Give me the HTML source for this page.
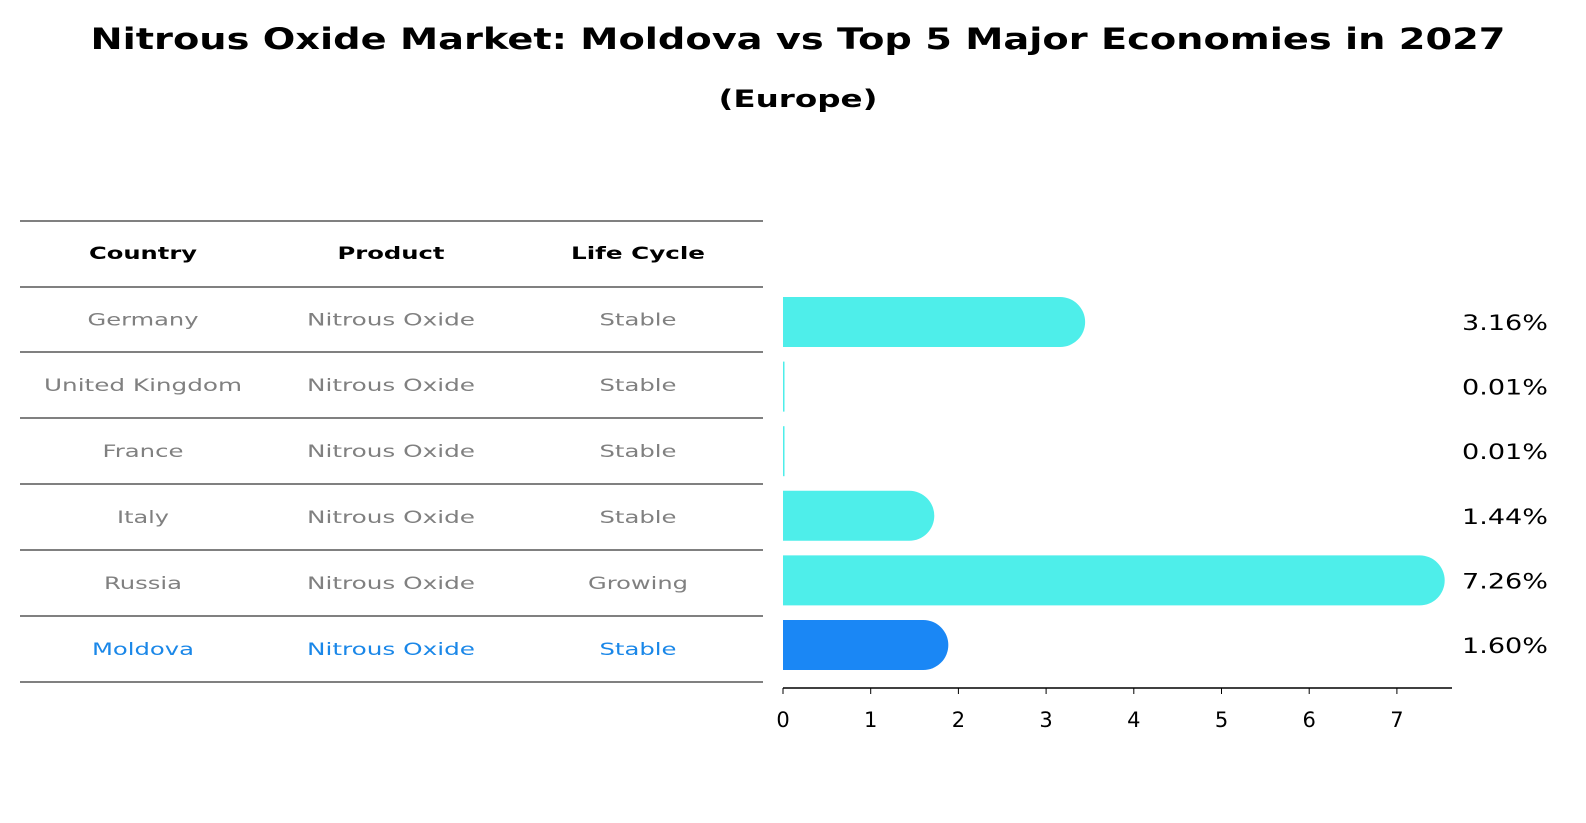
<!DOCTYPE html>
<html><head><meta charset="utf-8"><style>
html,body{margin:0;padding:0;background:#fff;width:1586px;height:823px;overflow:hidden}
svg{display:block}
svg text{font-family:"DejaVu Sans","Liberation Sans",sans-serif}
</style></head><body>
<svg width="1586" height="823" viewBox="0 0 1586 823">
<text x="798" y="49" text-anchor="middle" font-size="29" font-weight="bold" textLength="1415" lengthAdjust="spacingAndGlyphs">Nitrous Oxide Market: Moldova vs Top 5 Major Economies in 2027</text>
<text x="798" y="107" text-anchor="middle" font-size="24" font-weight="bold" textLength="159" lengthAdjust="spacingAndGlyphs">(Europe)</text>
<g id="table"></g>
<g id="bars"></g>
</svg>
<script>
const countries=["Germany","United Kingdom","France","Italy","Russia","Moldova"];
const products=["Nitrous Oxide","Nitrous Oxide","Nitrous Oxide","Nitrous Oxide","Nitrous Oxide","Nitrous Oxide"];
const lifeCycles=["Stable","Stable","Stable","Stable","Growing","Stable"];
const shares=[3.16,0.01,0.01,1.44,7.26,1.60];
const ticks=[0,1,2,3,4,5,6,7];
const NS="http://www.w3.org/2000/svg";
const widths={"Germany":111,"United Kingdom":198,"France":81,"Italy":52,"Russia":78,"Moldova":102,"Nitrous Oxide":168,"Stable":77,"Growing":100,"Country":108,"Product":107,"Life Cycle":134};
function mk(t,a,p){const e=document.createElementNS(NS,t);for(const k in a)e.setAttribute(k,a[k]);p.appendChild(e);return e;}
function fit(t,w){t.setAttribute('textLength',w);t.setAttribute('lengthAdjust','spacingAndGlyphs');}
const tbl=document.getElementById('table'),bars=document.getElementById('bars');
const lineYs=[221,287,352,418,484,550,616,682];
lineYs.forEach(y=>{const l=mk('line',{x1:20,x2:763,y1:y,y2:y,stroke:'#000','stroke-width':1},tbl);

});
const colX=[143,391,638];
["Country","Product","Life Cycle"].forEach((h,i)=>{const t=mk('text',{x:colX[i],y:259,'text-anchor':'middle','font-size':17,'font-weight':'bold'},tbl);t.textContent=h;fit(t,widths[h]);

});
const x0=783,ppu=87.7,rowY=i=>322+i*64.6;
const xs=v=>x0+v*ppu;
countries.forEach((c,i)=>{
 const cy=(lineYs[i+1]+lineYs[i+2])/2+6;
 const col=c==="Moldova"?"#1a87e8":"#808080";
 [c,products[i],lifeCycles[i]].forEach((v,j)=>{const t=mk('text',{x:colX[j],y:cy,'text-anchor':'middle','font-size':17,fill:col},tbl);t.textContent=v;fit(t,widths[v]);
 
 });
 const y=rowY(i),h=50,r=25,w=xs(shares[i])-x0;
 const fill=c==="Moldova"?"#1a87f5":"#4eeeea";
 let d;
 if(w>1){d=`M${x0},${y-h/2}H${x0+w}A${r},${r} 0 0 1 ${x0+w},${y+h/2}H${x0}Z`;}
 else{d=`M${x0},${y-h/2}H${x0+1.5}V${y+h/2}H${x0}Z`;}
 const p=mk('path',{d:d,fill:fill},bars);
 
 
 const t=mk('text',{x:1462,y:y+8,'font-size':21},bars);t.textContent=shares[i].toFixed(2)+"%";fit(t,86);
 
 
});
const ax=mk('line',{x1:x0,x2:1452,y1:688,y2:688,stroke:'#000','stroke-width':1.5},bars);


ticks.forEach(v=>{const l=mk('line',{x1:xs(v),x2:xs(v),y1:688,y2:694,stroke:'#000'},bars);


const t=mk('text',{x:xs(v),y:727,'text-anchor':'middle','font-size':21},bars);t.textContent=v;

});
</script>
</body></html>
